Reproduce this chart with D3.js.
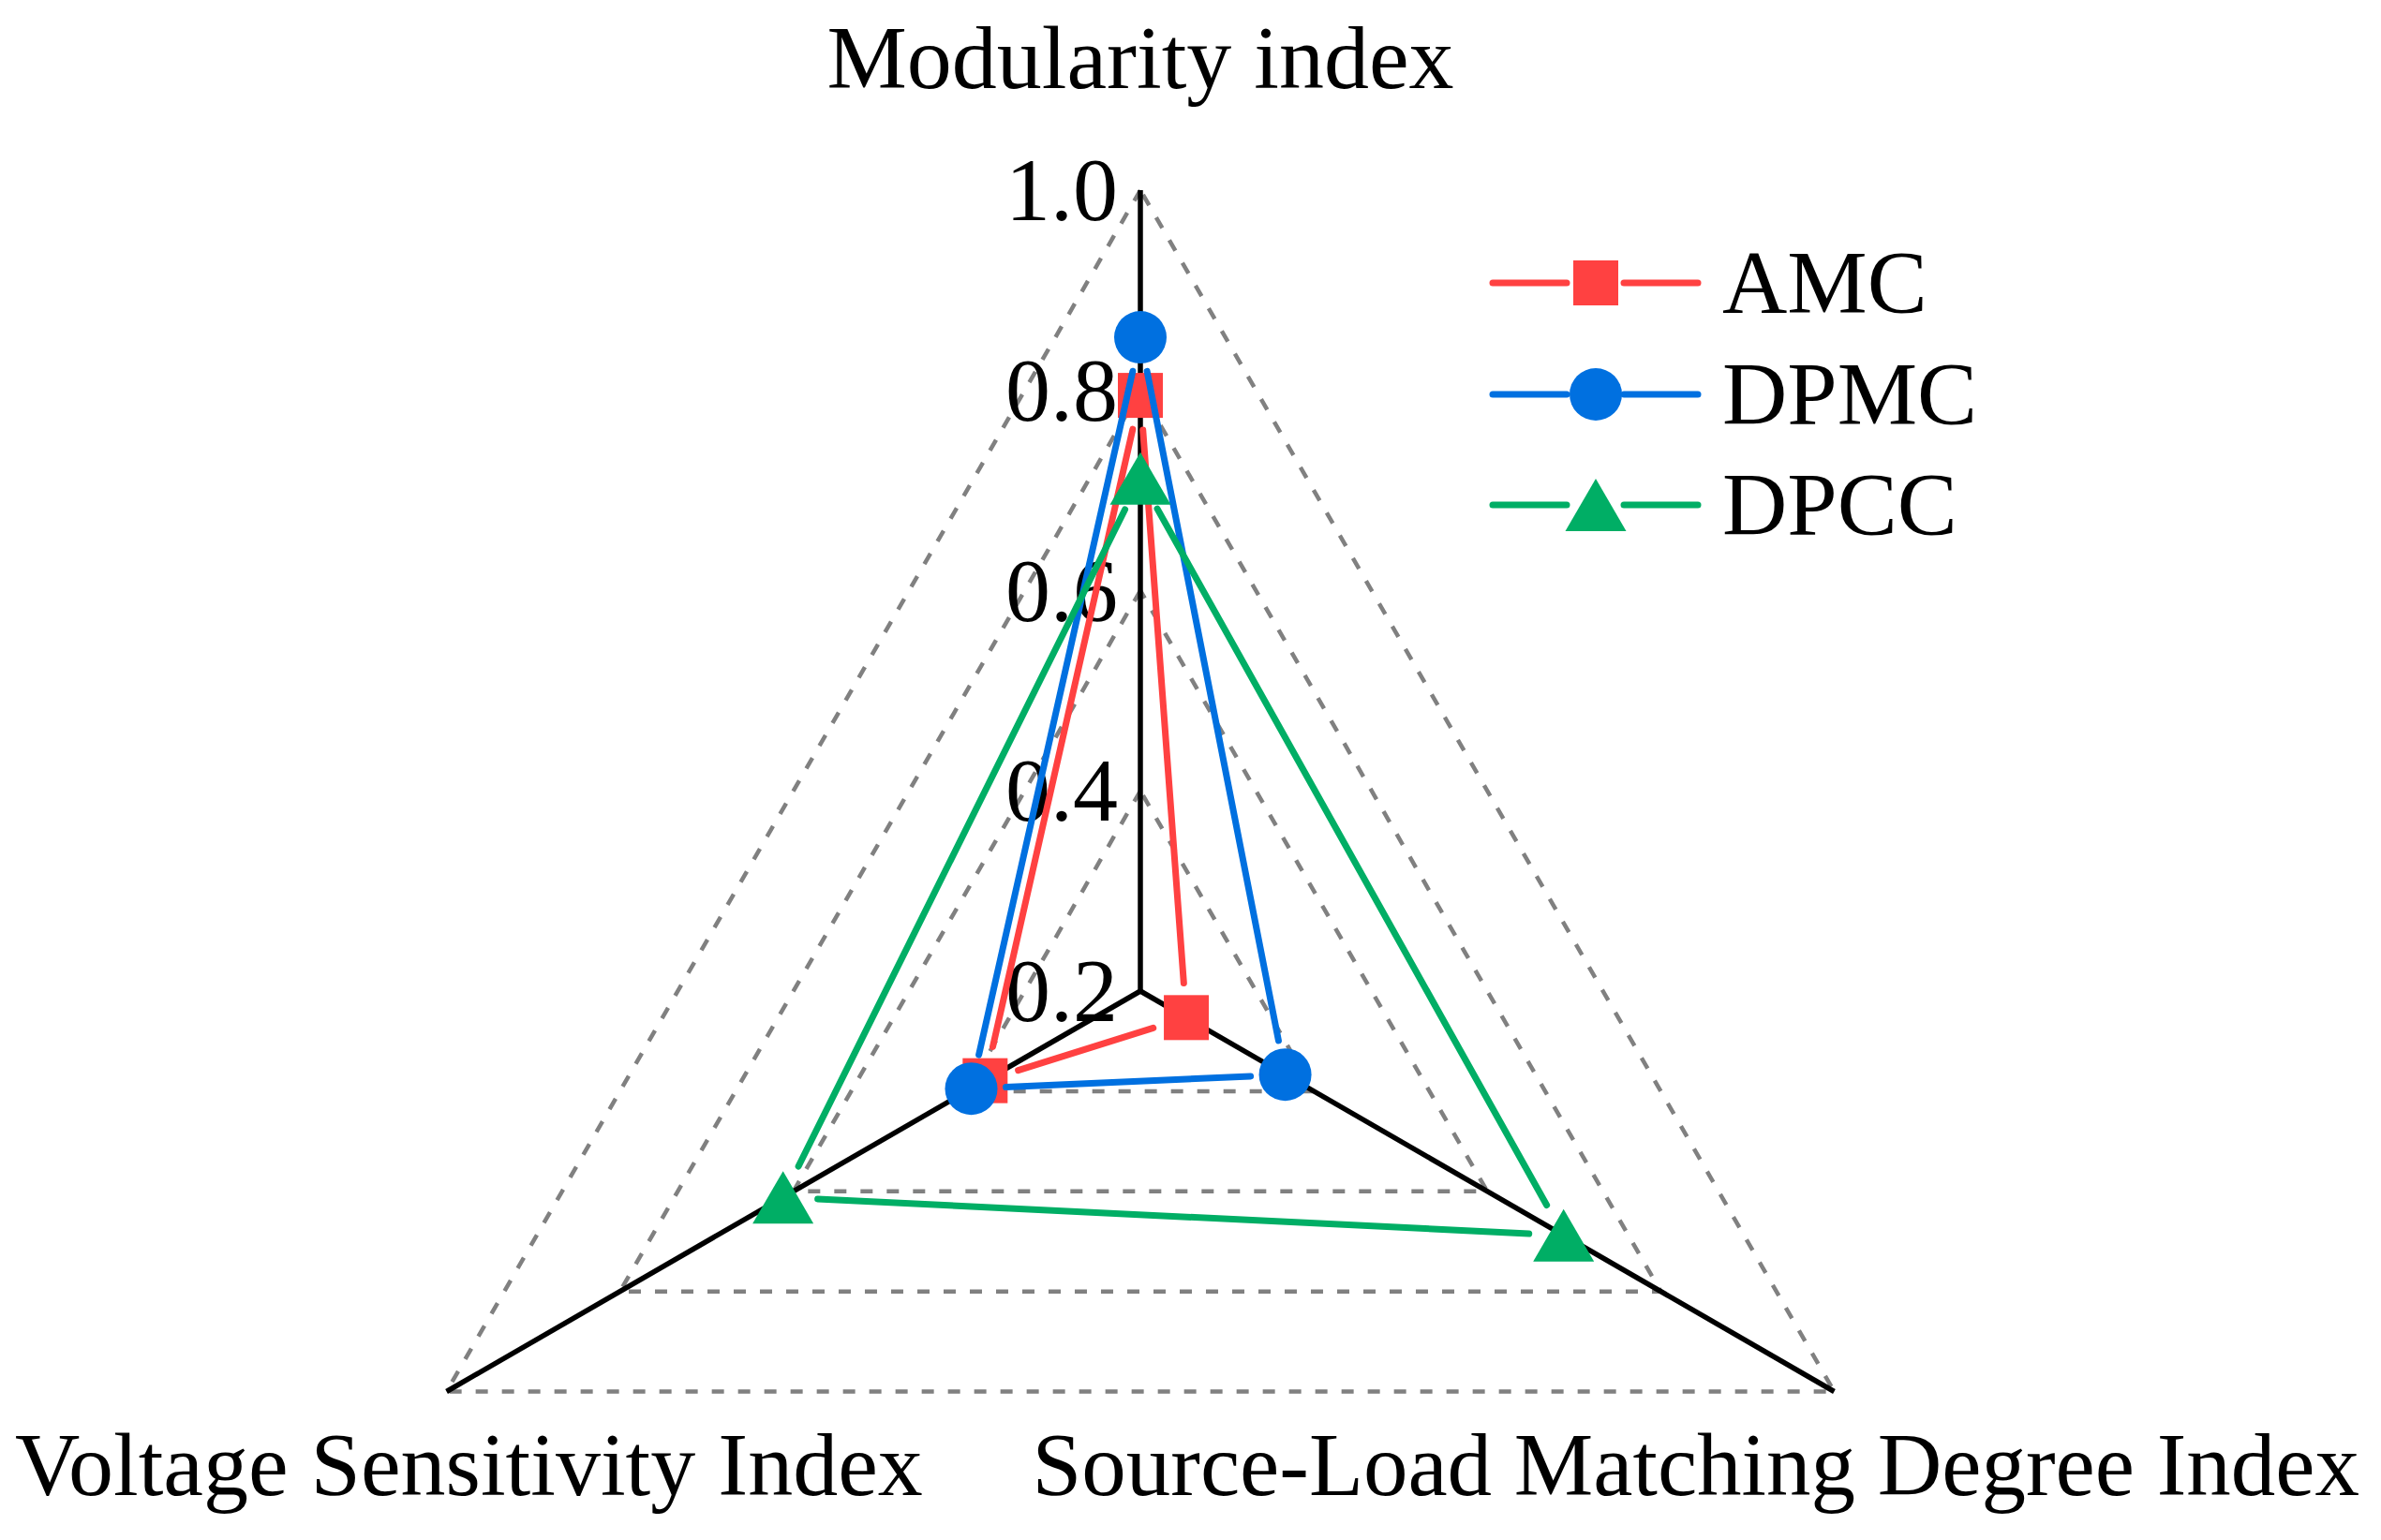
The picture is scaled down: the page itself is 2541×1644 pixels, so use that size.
<!DOCTYPE html>
<html>
<head>
<meta charset="utf-8">
<script src="https://cdn.jsdelivr.net/npm/d3@7"></script>
<style>
  html, body { margin: 0; padding: 0; background: #fff; }
  svg { display: block; }
  text { font-family: "Liberation Serif", "Times New Roman", serif; fill: #000; }
</style>
</head>
<body>
<svg id="chart" width="2541" height="1644"></svg>
<script>
// ---- data ----
const categories = ["Modularity index", "Voltage Sensitivity Index", "Source-Load Matching Degree Index"];
const seriesNames = ["AMC", "DPMC", "DPCC"];
const amcValues  = [0.795, 0.379, 0.253];
const dpmcValues = [0.853, 0.395, 0.367];
const dpccValues = [0.712, 0.612, 0.688];
const tickValues = [0.2, 0.4, 0.6, 0.8, 1.0];
const tickLabels = ["0.2", "0.4", "0.6", "0.8", "1.0"];
const gridValues = [0.4, 0.6, 0.8, 1.0];

// ---- layout / style ----
const W = 2541, H = 1644;
const cx = 1217, cy = 1058, R = 855;
const colors = ["#FF4141", "#0070E0", "#00AE65"];
const symbols = ["square", "circle", "triangle"];
const angles = [0, 240, 120]; // degrees clockwise from top
const fontSize = 96;

const svg = d3.select("#chart");
const r = d3.scaleLinear().domain([0.2, 1.0]).range([0, R]);

function pt(i, v) {
  const a = angles[i] * Math.PI / 180;
  const rr = r(v);
  return [cx + rr * Math.sin(a), cy - rr * Math.cos(a)];
}

// dashed grid triangles
const gridG = svg.append("g");
gridValues.forEach(g => {
  const pts = categories.map((c, i) => pt(i, g));
  gridG.append("path")
    .attr("d", d3.line()(pts) + "Z")
    .attr("fill", "none")
    .attr("stroke", "#808080")
    .attr("stroke-width", 4.5)
    .attr("stroke-dasharray", "13,15");
});

// axes
const axG = svg.append("g");
categories.forEach((c, i) => {
  const [x, y] = pt(i, 1.0);
  axG.append("line")
    .attr("x1", cx).attr("y1", cy).attr("x2", x).attr("y2", y)
    .attr("stroke", "#000").attr("stroke-width", 5.5);
});

// tick labels on vertical axis
tickValues.forEach((t, k) => {
  const [x, y] = pt(0, t);
  svg.append("text")
    .attr("x", cx - 24).attr("y", y + 32)
    .attr("text-anchor", "end")
    .attr("font-size", fontSize)
    .text(tickLabels[k]);
});

// axis titles
const [mx, my] = pt(0, 1.0);
svg.append("text").attr("x", mx).attr("y", 94).attr("text-anchor", "middle")
  .attr("font-size", fontSize).text(categories[0]);
svg.append("text").attr("x", 16).attr("y", 1596).attr("text-anchor", "start")
  .attr("font-size", fontSize).text(categories[1]);
svg.append("text").attr("x", 2518).attr("y", 1596).attr("text-anchor", "end")
  .attr("font-size", 95)
  .text(categories[2]);

// marker drawing
function drawMarker(g, type, x, y, color) {
  if (type === "square") {
    g.append("rect").attr("x", x - 24).attr("y", y - 24).attr("width", 48).attr("height", 48)
      .attr("fill", color);
  } else if (type === "circle") {
    g.append("circle").attr("cx", x).attr("cy", y).attr("r", 28).attr("fill", color);
  } else {
    const w = 65, h = 56;
    g.append("path").attr("d", d3.line()([[x, y - h / 2], [x + w / 2, y + h / 2], [x - w / 2, y + h / 2]]) + "Z")
      .attr("fill", color);
  }
}

function gappedSegment(g, p1, p2, gap, color) {
  const dx = p2[0] - p1[0], dy = p2[1] - p1[1];
  const len = Math.hypot(dx, dy);
  if (len <= 2 * gap) return;
  const ux = dx / len, uy = dy / len;
  g.append("line")
    .attr("x1", p1[0] + ux * gap).attr("y1", p1[1] + uy * gap)
    .attr("x2", p2[0] - ux * gap).attr("y2", p2[1] - uy * gap)
    .attr("stroke", color).attr("stroke-width", 7).attr("stroke-linecap", "round");
}

// series
const allValues = [amcValues, dpmcValues, dpccValues];
allValues.forEach((vals, s) => {
  const g = svg.append("g");
  const pts = vals.map((v, i) => pt(i, v));
  for (let i = 0; i < pts.length; i++) {
    gappedSegment(g, pts[i], pts[(i + 1) % pts.length], 37, colors[s]);
  }
  pts.forEach(p => drawMarker(g, symbols[s], p[0], p[1], colors[s]));
});

// legend
const legRows = [302, 421, 539];
seriesNames.forEach((name, s) => {
  const g = svg.append("g");
  const y = legRows[s];
  g.append("line").attr("x1", 1593).attr("y1", y).attr("x2", 1672).attr("y2", y)
    .attr("stroke", colors[s]).attr("stroke-width", 7).attr("stroke-linecap", "round");
  g.append("line").attr("x1", 1733).attr("y1", y).attr("x2", 1812).attr("y2", y)
    .attr("stroke", colors[s]).attr("stroke-width", 7).attr("stroke-linecap", "round");
  drawMarker(g, symbols[s], 1703, y, colors[s]);
  g.append("text").attr("x", 1838).attr("y", y + 32).attr("font-size", fontSize).text(name);
});
</script>
</body>
</html>
